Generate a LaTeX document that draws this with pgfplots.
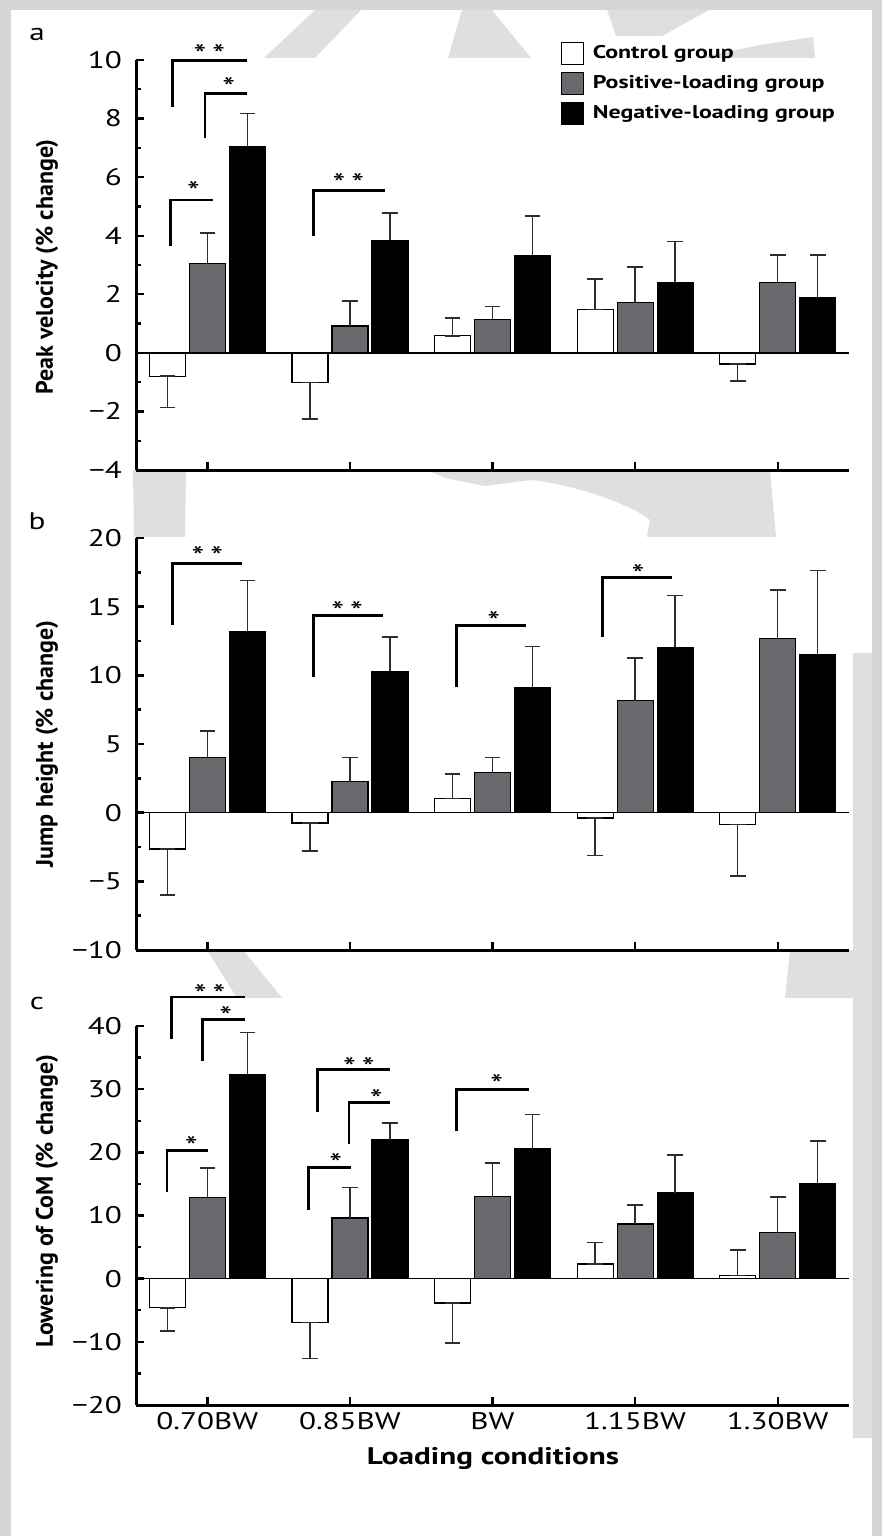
\documentclass[border=0pt]{standalone}
\usepackage{fontspec}
\setmainfont{PT Sans}[FakeStretch=1.3]
\newfontfamily\plainfont{PT Sans}
\usepackage{pgfplots}
\usepackage{pgfplotstable}
\pgfplotsset{compat=1.18}
\definecolor{bggray}{RGB}{214,214,214}
\definecolor{wmgray}{RGB}{223,223,223}
\definecolor{bargray}{RGB}{103,105,109}
\definecolor{errgray}{RGB}{45,45,45}

% columns: control (cy, +cep, -cem), positive (gy, gep), negative (ky, kep)
\pgfplotstableread{
x cy    cep  cem  gy    gep  ky    kep
0 -0.80 0    1.07 3.04  1.06 7.05  1.12
1 -1.01 0    1.25 0.92  0.85 3.85  0.93
2  0.58 0.62 0    1.15  0.43 3.32  1.35
3  1.48 1.04 0    1.73  1.20 2.41  1.39
4 -0.38 0    0.58 2.41  0.94 1.90  1.45
}\tabA
\pgfplotstableread{
x cy    cep  cem  gy    gep  ky    kep
0 -2.65 0    3.35 4.03  1.90 13.20 3.70
1 -0.75 0    2.02 2.26  1.77 10.30 2.50
2  1.04 1.78 0    2.94  1.09 9.09  3.01
3 -0.39 0    2.74 8.16  3.09 12.05 3.75
4 -0.87 0    3.73 12.66 3.57 11.50 6.14
}\tabB
\pgfplotstableread{
x cy    cep  cem  gy    gep  ky    kep
0 -4.60 0    3.70 12.90 4.60 32.30 6.70
1 -6.95 0    5.70 9.60  4.86 22.00 2.60
2 -3.84 0    6.36 13.00 5.30 20.60 5.40
3  2.33 3.43 0    8.66  3.00 13.57 6.03
4  0.48 4.02 0    7.30  5.60 15.05 6.75
}\tabC

\pgfplotsset{
  panel/.style={
    scale only axis, width=356.5pt,
    ybar, bar width=18pt,
    xmin=-0.5, xmax=4.5, xtick={0,1,2,3,4},
    axis x line*=bottom, axis y line*=left,
    axis line style={line width=1.5pt,-},
    tick align=inside,
    major tick length=4pt, minor tick length=2.5pt,
    every tick/.style={black, line width=1.2pt},
    minor y tick num=1,
    ticklabel style={font=\fontsize{12}{12}\selectfont},
    yticklabel style={xshift=-3.5pt},
    clip=false,
    error bars/y dir=both, error bars/y explicit,
    error bars/error bar style={errgray, line width=0.7pt},
    error bars/error mark options={rotate=90, mark size=3.9pt, line width=0.8pt, errgray},
  },
}
\newcommand{\bars}[1]{%
  \addplot[fill=white, draw=black, line width=0.6pt]
    table[x=x, y=cy, y error plus=cep, y error minus=cem]{#1};
  \addplot[fill=bargray, draw=black, line width=0.6pt, error bars/y dir=plus]
    table[x=x, y=gy, y error plus=gep]{#1};
  \addplot[fill=black, draw=black, line width=0.6pt, error bars/y dir=plus]
    table[x=x, y=ky, y error plus=kep]{#1};
  \draw[line width=0.8pt] (axis cs:-0.5,0) -- (axis cs:4.5,0);
}
% significance bracket: xl, xr, ybottom, ytop, stars, star x, star y
\newcommand{\sig}[7]{%
  \draw[line width=1.4pt] (axis cs:#1,#3) |- (axis cs:#2,#4);
  \node[font=\fontsize{14}{14}\selectfont, inner sep=0pt, yshift=-3pt] at (axis cs:#6,#7) {#5};
}
\def\two{*\hspace{3pt}*}

\begin{document}
\begin{tikzpicture}
\useasboundingbox (0,0) rectangle (441pt,-768pt);
\begin{scope}[x=0.5pt, y=-0.5pt]
  \fill[bggray] (0,0) rectangle (882,1536);
  \fill[white] (11,10) rectangle (872,1536);
  % watermark pieces showing between the panels
  \fill[wmgray] (315,10) -- (361,10) -- (315,58) -- (264,58) -- cycle;
  \fill[wmgray] (462,10) -- (492,10) -- (531,58) -- (448,58) -- cycle;
  \fill[wmgray] (607,10) -- (709,10) -- (662,36) -- (616,36) -- cycle;
  \fill[wmgray] (697,58) -- (815,58) -- (813,37) -- (760,45) -- cycle;
  \fill[wmgray] (133,470) -- (186,470) -- (185,537) -- (134,537) -- cycle;
  \fill[wmgray] (427,470) -- (770,470) -- (776,537) -- (647,537) -- (650,520)
     .. controls (625,500) and (560,482) .. (530,480) -- (485,486) -- (445,478) -- cycle;
  \fill[wmgray] (207,950) -- (243,950) -- (282,998) -- (237,998) -- cycle;
  \fill[wmgray] (790,950) -- (853,950) -- (853,998) -- (785,998) -- cycle;
  \fill[wmgray] (853,653) rectangle (872,1438);
  % white panel backgrounds
  \fill[white] (135,58) rectangle (853,470);
  \fill[white] (135,537) rectangle (853,950);
  \fill[white] (135,998) rectangle (853,1405);
\end{scope}

% panel a
\begin{axis}[panel, at={(68pt,-235pt)}, height=205pt,
  ymin=-4, ymax=10, ytick={-4,-2,...,10},
  yticklabels={−4,−2,0,2,4,6,8,10}, xticklabels={},
  legend image code/.code={\draw[#1, draw=black, line width=0.6pt] (0pt,-5.5pt) rectangle (11pt,5.5pt);},
  legend style={at={(0.595,1.046)}, anchor=north west, draw=none, fill=none,
    inner sep=0pt, row sep=3pt, font=\bfseries\fontsize{9.2}{10}\selectfont,
    /tikz/every odd column/.append style={column sep=2.5pt}},
  legend cell align=left,
  legend entries={Control group, Positive-loading group, Negative-loading group},
]
\bars{\tabA}
\sig{-0.246}{0.281}{8.4}{9.97}{\two}{0.014}{10.4}
\sig{-0.016}{0.281}{7.33}{8.86}{*}{0.15}{9.28}
\sig{-0.26}{0.04}{3.65}{5.22}{*}{-0.096}{5.7}
\sig{0.743}{1.246}{4.0}{5.55}{\two}{0.99}{6.0}
\end{axis}

% panel b
\begin{axis}[panel, at={(68pt,-475pt)}, height=206pt,
  ymin=-10, ymax=20, ytick={-10,-5,...,20},
  yticklabels={−10,−5,0,5,10,15,20}, xticklabels={},
]
\bars{\tabB}
\sig{-0.244}{0.244}{13.68}{18.17}{\two}{0.0}{19.1}
\sig{0.747}{1.235}{9.86}{14.36}{\two}{0.98}{15.1}
\sig{1.75}{2.235}{9.13}{13.63}{*}{2.008}{14.36}
\sig{2.77}{3.256}{12.78}{17.15}{*}{3.02}{17.8}
\end{axis}

% panel c
\begin{axis}[panel, at={(68pt,-702.5pt)}, height=189.5pt,
  ymin=-20, ymax=40, ytick={-20,-10,...,40},
  yticklabels={−20,−10,0,10,20,30,40},
  xticklabels={0.70BW,0.85BW,BW,1.15BW,1.30BW},
]
\bars{\tabC}
\sig{-0.253}{0.262}{37.9}{44.6}{\two}{0.016}{46}
\sig{-0.033}{0.262}{34.45}{41.04}{*}{0.13}{42.4}
\sig{-0.283}{0.002}{13.7}{20.3}{*}{-0.112}{21.9}
\sig{0.771}{1.281}{26.4}{33.1}{\two}{1.063}{34.45}
\sig{0.993}{1.281}{21.27}{27.86}{*}{1.185}{29.3}
\sig{0.712}{1.005}{10.93}{17.58}{*}{0.9}{19.2}
\sig{1.745}{2.258}{23.4}{30.0}{*}{2.03}{31.7}
\end{axis}

\node[font=\fontsize{12}{12}\selectfont] at (18.5pt,-17.5pt) {a};
\node[font=\fontsize{12}{12}\selectfont] at (18.5pt,-260.8pt) {b};
\node[font=\fontsize{12}{12}\selectfont] at (18.5pt,-501.5pt) {c};
\node[font=\plainfont\bfseries\fontsize{12}{12}\selectfont, rotate=90] at (23.5pt,-133.5pt) {Peak velocity (\% change)};
\node[font=\plainfont\bfseries\fontsize{12}{12}\selectfont, rotate=90] at (23.5pt,-372pt) {Jump height (\% change)};
\node[font=\plainfont\bfseries\fontsize{12}{12}\selectfont, rotate=90] at (23.5pt,-600.5pt) {Lowering of CoM (\% change)};
\node[font=\bfseries\fontsize{12}{12}\selectfont] at (246.5pt,-729pt) {Loading conditions};
\end{tikzpicture}
\end{document}
